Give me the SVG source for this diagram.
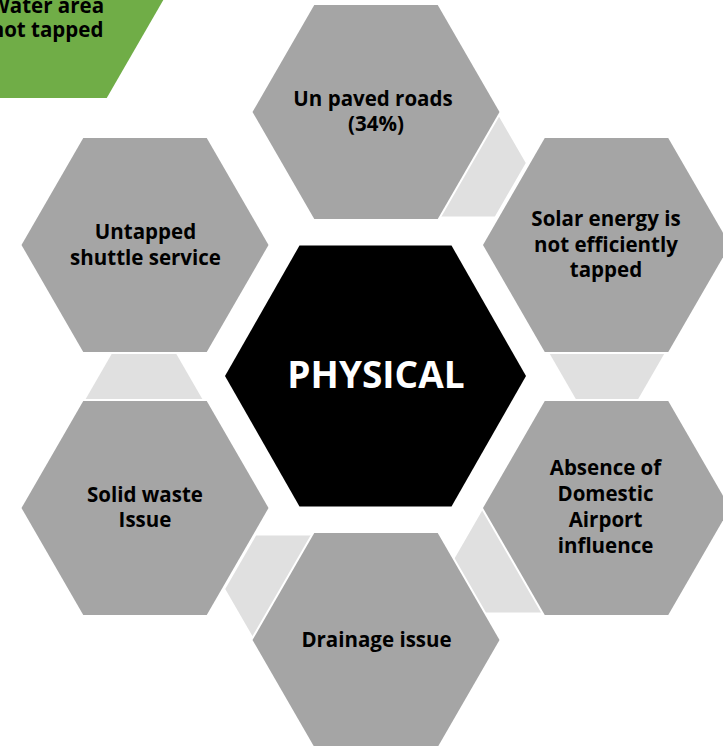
<svg xmlns="http://www.w3.org/2000/svg" xmlns:xlink="http://www.w3.org/1999/xlink" width="723" height="746" viewBox="0 0 723 746">
  <defs>
    <polygon id="hexL" points="-123.5,0 -61.75,-107 61.75,-107 123.5,0 61.75,107 -61.75,107"/>
    <polygon id="hexS" points="-61.75,0 -30.9,-53.5 30.9,-53.5 61.75,0 30.9,53.5 -30.9,53.5"/>
    <polygon id="hexC" points="-150.5,0 -76,-130.5 76,-130.5 150.5,0 76,130.5 -76,130.5"/>
  </defs>
  <style>
    .node { fill: #A5A5A5; stroke: #FFFFFF; stroke-width: 4; paint-order: stroke; }
    .conn { fill: #E0E0E0; }
    .green { fill: #70AD47; stroke: #FFFFFF; stroke-width: 4; paint-order: stroke; }
    .center { fill: #000000; }
    .lbl { font-family: "Open Sans", "Noto Sans", "Liberation Sans", sans-serif; font-weight: bold; font-size: 20.5px; fill: #000000; text-anchor: middle; }
    .title { font-family: "Open Sans", "Noto Sans", "Liberation Sans", sans-serif; font-weight: bold; font-size: 37px; fill: #FFFFFF; text-anchor: middle; }
  </style>
  <rect width="723" height="746" fill="#FFFFFF"/>

  <g id="connectors">
    <use xlink:href="#hexS" href="#hexS" class="conn" transform="translate(464,163)"/>
    <use xlink:href="#hexS" href="#hexS" class="conn" transform="translate(607,346)"/>
    <use xlink:href="#hexS" href="#hexS" class="conn" transform="translate(516,559)"/>
    <use xlink:href="#hexS" href="#hexS" class="conn" transform="translate(287,589)"/>
    <use xlink:href="#hexS" href="#hexS" class="conn" transform="translate(144,405)"/>
  </g>

  <g id="node-water">
    <use xlink:href="#hexL" href="#hexL" class="green" transform="translate(45,-9)"/>
    <text class="lbl" y="13"><tspan x="47">Water area</tspan><tspan x="47" dy="24">not tapped</tspan></text>
  </g>

  <g id="node-roads">
    <use xlink:href="#hexL" href="#hexL" class="node" transform="translate(376,112)"/>
    <text class="lbl" y="106"><tspan x="373">Un paved roads</tspan><tspan x="376" dy="25">(34%)</tspan></text>
  </g>

  <g id="node-solar">
    <use xlink:href="#hexL" href="#hexL" class="node" transform="translate(606.5,245)"/>
    <text class="lbl" y="226"><tspan x="606">Solar energy is</tspan><tspan x="606" dy="25.5">not efficiently</tspan><tspan x="606" dy="25.5">tapped</tspan></text>
  </g>

  <g id="node-airport">
    <use xlink:href="#hexL" href="#hexL" class="node" transform="translate(606.5,508)"/>
    <text class="lbl" y="475"><tspan x="605.5">Absence of</tspan><tspan x="605.5" dy="26">Domestic</tspan><tspan x="605.5" dy="26">Airport</tspan><tspan x="605.5" dy="26">influence</tspan></text>
  </g>

  <g id="node-drainage">
    <use xlink:href="#hexL" href="#hexL" class="node" transform="translate(376,640)"/>
    <text class="lbl" x="376.5" y="647">Drainage issue</text>
  </g>

  <g id="node-waste">
    <use xlink:href="#hexL" href="#hexL" class="node" transform="translate(145,508)"/>
    <text class="lbl" y="502"><tspan x="145">Solid waste</tspan><tspan x="145" dy="25">Issue</tspan></text>
  </g>

  <g id="node-shuttle">
    <use xlink:href="#hexL" href="#hexL" class="node" transform="translate(145,245)"/>
    <text class="lbl" y="239"><tspan x="145.5">Untapped</tspan><tspan x="145.5" dy="26">shuttle service</tspan></text>
  </g>

  <g id="node-physical">
    <use xlink:href="#hexC" href="#hexC" class="center" transform="translate(375.5,376)"/>
    <text class="title" x="376" y="388">PHYSICAL</text>
  </g>
</svg>
